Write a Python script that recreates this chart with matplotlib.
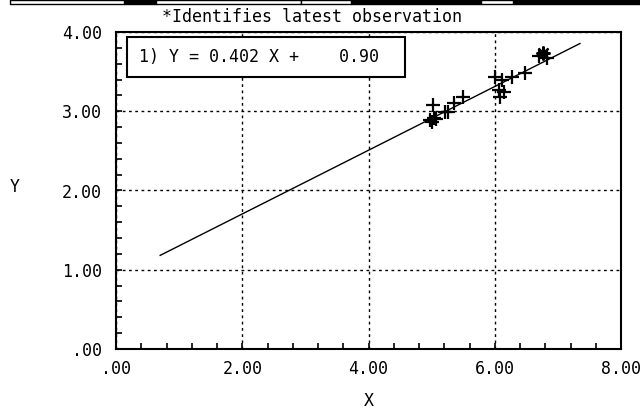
import numpy as np
import matplotlib.pyplot as plt
from matplotlib.patches import Rectangle
from matplotlib.ticker import MultipleLocator

# data
x_obs = [5.02, 4.97, 5.03, 5.07, 5.00, 5.21, 5.26, 5.35, 5.50, 6.00, 6.12,
         6.27, 6.06, 6.14, 6.08, 6.48, 6.70, 6.83]
y_obs = [3.08, 2.89, 2.92, 2.90, 2.87, 2.99, 2.99, 3.10, 3.18, 3.43, 3.39,
         3.43, 3.27, 3.24, 3.18, 3.48, 3.70, 3.67]
x_latest = [6.77]
y_latest = [3.74]
slope = 0.402
intercept = 0.90
fit_x = [0.70, 7.35]
xticks = [0, 2, 4, 6, 8]
xtick_labels = [".00", "2.00", "4.00", "6.00", "8.00"]
yticks = [0, 1, 2, 3, 4]
ytick_labels = [".00", "1.00", "2.00", "3.00", "4.00"]

plt.rcParams['font.family'] = ['DejaVu Sans Mono', 'DejaVu Sans']
fig = plt.figure(figsize=(6.4, 4.11), dpi=100)
ax = fig.add_axes([116/640, 1-349/411, 505/640, 317/411])

fit_y = [slope*v + intercept for v in fit_x]
ax.plot(fit_x, fit_y, color='black', lw=1.0)
ax.plot(x_obs, y_obs, ls='none', marker='+', ms=10, mew=1.6, color='black')
ax.plot(x_latest, y_latest, ls='none', marker=(8, 2, 0), ms=10, mew=1.6, color='black')

ax.set_xlim(0, 8)
ax.set_ylim(0, 4)
ax.set_xticks(xticks)
ax.set_xticklabels(xtick_labels)
ax.set_yticks(yticks)
ax.set_yticklabels(ytick_labels)
ax.xaxis.set_minor_locator(MultipleLocator(0.4))
ax.yaxis.set_minor_locator(MultipleLocator(0.2))
ax.tick_params(which='both', direction='in', top=False, right=False,
               labelsize=12)
ax.tick_params(axis='x', which='major', pad=8)
ax.tick_params(axis='y', which='major', pad=10)
ax.tick_params(which='major', length=4, width=1.2)
ax.tick_params(which='minor', length=4, width=1.2)
ax.grid(True, which='major', color='black', ls=(0, (2, 2.5)), lw=1.0)
for s in ax.spines.values():
    s.set_linewidth(1.5)

# equation box
ax.add_patch(Rectangle((0.022, 0.858), 0.55, 0.126, transform=ax.transAxes,
                       facecolor='white', edgecolor='black', lw=1.5, zorder=5))
ax.text(0.045, 0.921, "1) Y = %.3f X +    %.2f" % (slope, intercept),
        transform=ax.transAxes, fontsize=12, va='center', ha='left', zorder=6)

ax.set_xlabel("X", fontsize=12, labelpad=10)
fig.text(15/640, 1-187/411, "Y", fontsize=12, ha='center', va='center')
fig.text(312/640, 1-17/411, "*Identifies latest observation", fontsize=12,
         ha='center', va='center')

# clipped toolbar strip at the very top
h = 4/411
for x0, x1, c in [(124, 156, 'black'), (351, 481, 'black'), (513, 640, 'black'),
                  (10, 124, 'white'), (156, 301, 'white'), (301, 351, 'white'),
                  (481, 513, 'white')]:
    fig.patches.append(Rectangle((x0/640, 1-h), (x1-x0)/640, h, transform=fig.transFigure,
                                 facecolor=c, edgecolor='black', lw=1.0))

fig.savefig("out.png", dpi=100)
